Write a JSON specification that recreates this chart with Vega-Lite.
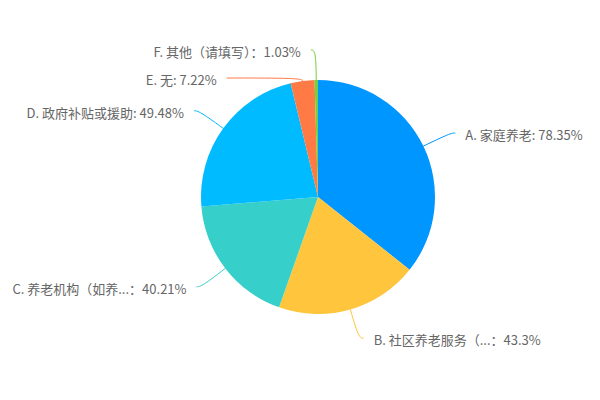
{
  "$schema": "https://vega.github.io/schema/vega-lite/v6.json",
  "width": 600,
  "height": 400,
  "padding": 0,
  "autosize": {"type": "fit", "contains": "padding"},
  "background": "white",
  "config": {"view": {"stroke": null}},
  "data": {
    "values": [
      {"category": "A. 家庭养老", "value": 78.35, "label": "A. 家庭养老: 78.35%"},
      {"category": "B. 社区养老服务", "value": 43.3, "label": "B. 社区养老服务（...：43.3%"},
      {"category": "C. 养老机构", "value": 40.21, "label": "C. 养老机构（如养...：40.21%"},
      {"category": "D. 政府补贴或援助", "value": 49.48, "label": "D. 政府补贴或援助: 49.48%"},
      {"category": "E. 无", "value": 7.22, "label": "E. 无: 7.22%"},
      {"category": "F. 其他（请填写）", "value": 1.03, "label": "F. 其他（请填写）：1.03%"}
    ]
  },
  "transform": [
    {"joinaggregate": [{"op": "sum", "field": "value", "as": "total"}]},
    {"window": [{"op": "sum", "field": "value", "as": "cum"}], "sort": [{"field": "category"}], "frame": [null, 0]},
    {"calculate": "2*PI*(datum.cum - datum.value/2)/datum.total", "as": "mid"},
    {"calculate": "sin(datum.mid) >= 0 ? 1 : -1", "as": "side"},
    {"calculate": "-147*cos(datum.mid)", "as": "ynat"},
    {"window": [{"op": "lag", "field": "ynat", "as": "yprev"}], "groupby": ["side"], "sort": [{"field": "ynat"}]},
    {"calculate": "datum.yprev == null ? datum.ynat : max(datum.ynat, datum.yprev + 28)", "as": "yl"},
    {"calculate": "117*sin(datum.mid)", "as": "x1"},
    {"calculate": "-117*cos(datum.mid)", "as": "y1"},
    {"calculate": "min(200, max(117, datum.yl / (-cos(datum.mid))))", "as": "r2"},
    {"calculate": "datum.r2*sin(datum.mid)", "as": "x2"},
    {"calculate": "-datum.r2*cos(datum.mid)", "as": "y2"},
    {"calculate": "datum.side*(sqrt(max(0, 147*147 - datum.yl*datum.yl)) + 5)", "as": "x3"},
    {"calculate": "datum.x3 + datum.side*10", "as": "tx"}
  ],
  "layer": [
    {
      "mark": {"type": "arc", "outerRadius": 117},
      "encoding": {
        "theta": {"field": "value", "type": "quantitative", "stack": true},
        "order": {"field": "category"},
        "color": {
          "field": "category",
          "type": "nominal",
          "scale": {
            "domain": ["A. 家庭养老", "B. 社区养老服务", "C. 养老机构", "D. 政府补贴或援助", "E. 无", "F. 其他（请填写）"],
            "range": ["#0096FF", "#FFC53D", "#36CFC9", "#00BBFF", "#FF7A45", "#73D13D"]
          },
          "legend": null
        },
        "x": {"datum": 0, "type": "quantitative", "scale": {"domain": [-318, 282], "nice": false, "zero": false}, "axis": null},
        "y": {"datum": 0, "type": "quantitative", "scale": {"domain": [-197, 203], "nice": false, "zero": false, "reverse": true}, "axis": null}
      }
    },
    {
      "transform": [
        {"calculate": "[datum.x1, datum.x2, datum.x3]", "as": "px"},
        {"calculate": "[datum.y1, datum.y2, datum.yl]", "as": "py"},
        {"calculate": "[0, 1, 2]", "as": "pi"},
        {"flatten": ["px", "py", "pi"]}
      ],
      "mark": {"type": "line", "interpolate": "basis", "strokeWidth": 1},
      "encoding": {
        "x": {"field": "px", "type": "quantitative", "scale": {"domain": [-318, 282], "nice": false, "zero": false}, "axis": null},
        "y": {"field": "py", "type": "quantitative", "scale": {"domain": [-197, 203], "nice": false, "zero": false, "reverse": true}, "axis": null},
        "order": {"field": "pi"},
        "detail": {"field": "category"},
        "color": {"field": "category", "type": "nominal", "legend": null}
      }
    },
    {
      "transform": [{"filter": "datum.side > 0"}],
      "mark": {"type": "text", "align": "left", "baseline": "middle", "dy": 3, "font": "Noto Sans CJK SC", "fontSize": 13, "color": "#666666"},
      "encoding": {
        "x": {"field": "tx", "type": "quantitative", "scale": {"domain": [-318, 282], "nice": false, "zero": false}, "axis": null},
        "y": {"field": "yl", "type": "quantitative", "scale": {"domain": [-197, 203], "nice": false, "zero": false, "reverse": true}, "axis": null},
        "text": {"field": "label"}
      }
    },
    {
      "transform": [{"filter": "datum.side < 0"}],
      "mark": {"type": "text", "align": "right", "baseline": "middle", "dy": 3, "font": "Noto Sans CJK SC", "fontSize": 13, "color": "#666666"},
      "encoding": {
        "x": {"field": "tx", "type": "quantitative", "scale": {"domain": [-318, 282], "nice": false, "zero": false}, "axis": null},
        "y": {"field": "yl", "type": "quantitative", "scale": {"domain": [-197, 203], "nice": false, "zero": false, "reverse": true}, "axis": null},
        "text": {"field": "label"}
      }
    }
  ]
}
